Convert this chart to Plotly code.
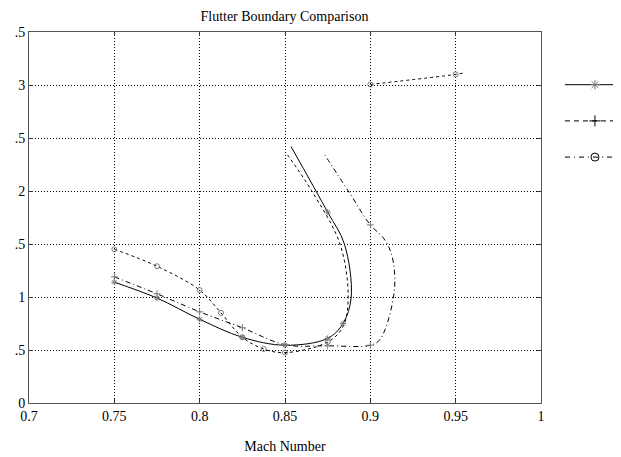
import plotly.graph_objects as go

# ---- data ----
# solid curve (line) and its '*' markers
solid_x = [0.75, 0.775, 0.80, 0.825, 0.85, 0.875, 0.884, 0.8888, 0.8848, 0.875, 0.8535]
solid_y = [1.14, 0.99, 0.79, 0.62, 0.545, 0.61, 0.75, 1.00, 1.50, 1.80, 2.42]
solid_mx = [0.75, 0.775, 0.80, 0.825, 0.85, 0.875, 0.884, 0.875]
solid_my = [1.14, 0.99, 0.79, 0.62, 0.545, 0.61, 0.75, 1.80]

# dashed curve and its 'o' markers
dash_x = [0.75, 0.775, 0.80, 0.8125, 0.825, 0.8375, 0.85, 0.875, 0.884, 0.887, 0.8822, 0.8657, 0.8515]
dash_y = [1.45, 1.29, 1.065, 0.85, 0.62, 0.51, 0.475, 0.575, 0.72, 1.00, 1.50, 2.00, 2.34]
dash_mx = [0.75, 0.775, 0.80, 0.8125, 0.825, 0.8375, 0.85, 0.875]
dash_my = [1.45, 1.29, 1.065, 0.85, 0.62, 0.51, 0.475, 0.575]

# isolated dashed segment with 'o' markers
seg_x = [0.90, 0.95, 0.9555]
seg_y = [3.005, 3.10, 3.115]
seg_mx = [0.90, 0.95]
seg_my = [3.005, 3.10]

# dash-dot curve and its '+' markers
dd_x = [0.75, 0.775, 0.80, 0.825, 0.85, 0.875, 0.90, 0.9057, 0.914, 0.9125, 0.9075, 0.90, 0.8871, 0.8725]
dd_y = [1.19, 1.03, 0.86, 0.71, 0.55, 0.54, 0.545, 0.60, 1.05, 1.40, 1.56, 1.68, 2.00, 2.36]
dd_mx = [0.75, 0.775, 0.80, 0.825, 0.85, 0.875, 0.90, 0.90]
dd_my = [1.19, 1.03, 0.86, 0.71, 0.55, 0.54, 0.545, 1.68]

x_ticks = [0.7, 0.75, 0.8, 0.85, 0.9, 0.95, 1.0]
x_ticktext = ["0.7", "0.75", "0.8", "0.85", "0.9", "0.95", "1"]
y_ticks = [0, 0.5, 1, 1.5, 2, 2.5, 3, 3.5]
y_ticktext = ["0", ".5", "1", ".5", "2", ".5", "3", ".5"]

FONT = "Liberation Serif, Times New Roman, serif"
MK = "#7a7a7a"

fig = go.Figure()

def line(x, y, dash):
    fig.add_trace(go.Scatter(x=x, y=y, mode="lines", showlegend=False,
                             line=dict(color="black", width=1, dash=dash, shape="spline", smoothing=1.0)))

def marks(x, y, sym):
    fig.add_trace(go.Scatter(x=x, y=y, mode="markers", showlegend=False,
                             marker=dict(symbol=sym, size=5, color=MK, line=dict(color=MK, width=1))))

line(solid_x, solid_y, "solid")
line(dash_x, dash_y, "3px,3px")
line(seg_x, seg_y, "3px,3px")
line(dd_x, dd_y, "5px,3px,1px,3px")
marks(solid_mx, solid_my, "asterisk-open")
marks(dash_mx, dash_my, "circle-open")
marks(seg_mx, seg_my, "circle-open")
marks(dd_mx, dd_my, "cross-thin-open")

# legend entries (as drawn in the reference)
leg = [("solid", "asterisk-open", MK), ("5px,4px", "cross-thin-open", "black"), ("5px,4px,1px,4px", "circle-open", "black")]
for i, (d, s, c) in enumerate(leg):
    fig.add_trace(go.Scatter(x=[None], y=[None], mode="lines+markers", name=" ",
                             legendgroup=f"g{i}",
                             line=dict(color="black", width=1, dash=d),
                             marker=dict(symbol=s, size=8, color=c, line=dict(color=c, width=1))))

axis_common = dict(showline=True, mirror="ticks", linecolor="#555555", linewidth=1,
                   ticks="inside", ticklen=4, tickcolor="#333333",
                   showgrid=True, gridcolor="black", griddash="1px,2px", gridwidth=1,
                   zeroline=False, tickfont=dict(family=FONT, size=14, color="black"))

fig.update_xaxes(range=[0.7, 1.0], tickvals=x_ticks, ticktext=x_ticktext,
                 title=dict(text="Mach Number", font=dict(family=FONT, size=14, color="black"), standoff=18),
                 automargin=False, **axis_common)
fig.update_yaxes(range=[0, 3.5], tickvals=y_ticks, ticktext=y_ticktext, automargin=False, **axis_common)

# the page adds an 8px body margin, so the figure is 8px smaller and offset
fig.update_layout(
    width=613, height=449,
    margin=dict(l=21, r=80, t=24, b=54, autoexpand=False),
    paper_bgcolor="white", plot_bgcolor="white",
    title=dict(text="Flutter Boundary Comparison", x=0.451, xanchor="center", y=0.982, yanchor="middle",
               font=dict(family=FONT, size=14, color="black")),
    legend=dict(x=1.037, xanchor="left", y=0.9, yanchor="top", itemwidth=60,
                tracegroupgap=15, traceorder="grouped",
                font=dict(family=FONT, size=14), bgcolor="rgba(0,0,0,0)", borderwidth=0),
    showlegend=True,
)

fig.write_html("out.html")
